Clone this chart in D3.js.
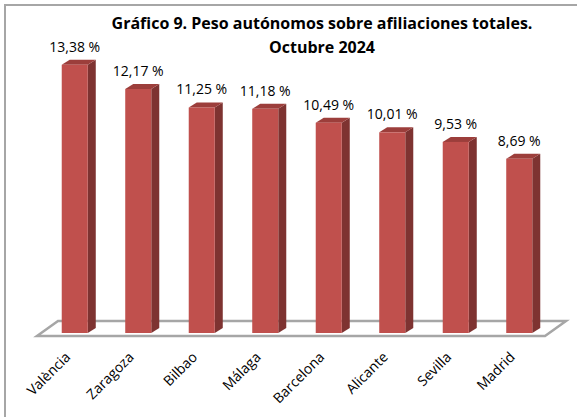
<!DOCTYPE html>
<html>
<head>
<meta charset="utf-8">
<script src="https://cdn.jsdelivr.net/npm/d3@7"></script>
<style>
  html, body { margin: 0; padding: 0; background: #fff; }
  svg { display: block; font-family: "Open Sans", sans-serif; }
</style>
</head>
<body>
<svg id="chart" width="577" height="417"></svg>
<script>
const titleLines = ["Gráfico 9. Peso autónomos sobre afiliaciones totales.", "Octubre 2024"];
const categories = ["València", "Zaragoza", "Bilbao", "Málaga", "Barcelona", "Alicante", "Sevilla", "Madrid"];
const values = [13.38, 12.17, 11.25, 11.18, 10.49, 10.01, 9.53, 8.69];
const valueLabels = ["13,38 %", "12,17 %", "11,25 %", "11,18 %", "10,49 %", "10,01 %", "9,53 %", "8,69 %"];

const svg = d3.select("#chart");
const W = 577, H = 417;

// outer frame (only top & left visible in crop)
svg.append("rect").attr("x", 5).attr("y", 5).attr("width", 600).attr("height", 500)
  .attr("fill", "#fff").attr("stroke", "#a6a6a6").attr("stroke-width", 2);

// title
const title = svg.append("text").attr("text-anchor", "middle")
  .attr("font-weight", "bold").attr("font-size", 16).attr("fill", "#000");
title.selectAll("tspan").data(titleLines).join("tspan")
  .attr("x", 322).attr("y", (d, i) => 29 + i * 24).text(d => d);

// scales
const x = d3.scaleBand().domain(categories).range([43, 551])
  .paddingInner(0.59).paddingOuter(0.295);
const y = d3.scaleLinear().domain([0, 14]).range([333, 333 - 20.05 * 14]);

// floor
const floorFront = 336, floorBack = 321, floorL = 37, floorR = 545, fdx = 21;
svg.append("path")
  .attr("d", `M${floorL},${floorFront} L${floorR},${floorFront} L${floorR + fdx},${floorBack} L${floorL + fdx},${floorBack} Z`)
  .attr("fill", "#fff").attr("stroke", "#a6a6a6").attr("stroke-width", 2.5).attr("stroke-linejoin", "miter");

// 3D bars
const dx = 8, dy = 5;
const bw = x.bandwidth();
const bars = svg.append("g").selectAll("g").data(categories).join("g");
bars.append("path").attr("fill", "#7e3331")
  .attr("d", (c, i) => {
    const x0 = x(c) + bw, yt = y(values[i]), yb = y(0);
    return `M${x0},${yt} L${x0 + dx},${yt - dy} L${x0 + dx},${yb - dy} L${x0},${yb} Z`;
  });
bars.append("path").attr("fill", "#9c3e3b")
  .attr("d", (c, i) => {
    const x0 = x(c), yt = y(values[i]);
    return `M${x0},${yt} L${x0 + dx},${yt - dy} L${x0 + bw + dx},${yt - dy} L${x0 + bw},${yt} Z`;
  });
bars.append("rect").attr("fill", "#c0504d")
  .attr("x", c => x(c)).attr("width", bw)
  .attr("y", (c, i) => y(values[i])).attr("height", (c, i) => y(0) - y(values[i]));

// value labels
svg.append("g").selectAll("text").data(categories).join("text")
  .attr("text-anchor", "middle").attr("font-size", 14).attr("fill", "#000")
  .attr("x", c => x(c) + bw / 2)
  .attr("y", (c, i) => y(values[i]) - 13)
  .text((c, i) => valueLabels[i]);

// category labels
svg.append("g").selectAll("text").data(categories).join("text")
  .attr("text-anchor", "end").attr("font-size", 14).attr("fill", "#000")
  .attr("transform", c => `translate(${x(c) + bw / 2 - 3.5},358) rotate(-45)`)
  .text(c => c);
</script>
</body>
</html>
